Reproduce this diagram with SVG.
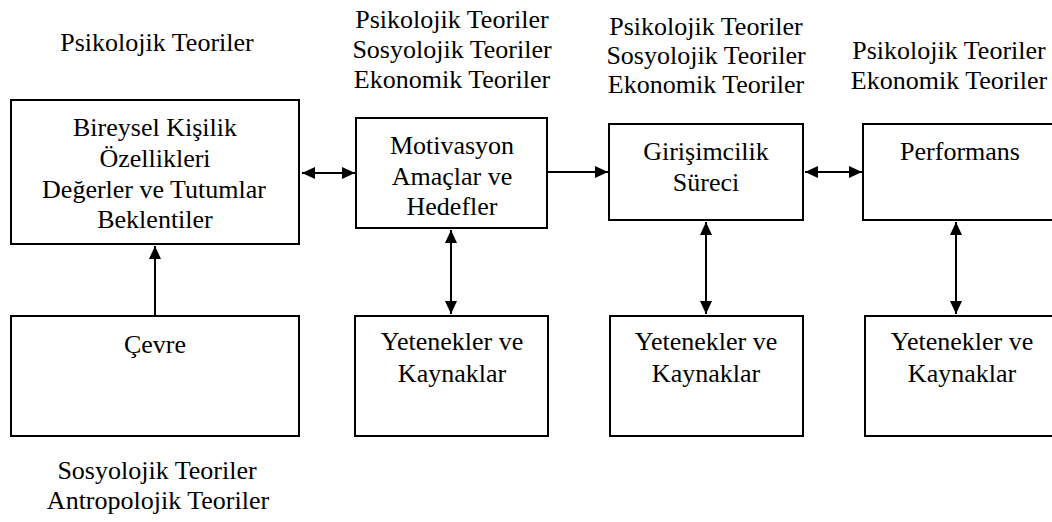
<svg xmlns="http://www.w3.org/2000/svg" width="1052" height="522" viewBox="0 0 1052 522">
<style>
.box{fill:#fff;stroke:#000;stroke-width:2}
text{font-family:"Liberation Serif","Times New Roman",serif;font-size:26px;fill:#000;text-anchor:middle}
.ln{stroke:#000;stroke-width:2;fill:none}
</style>
<defs>
<marker id="ah" viewBox="0 0 13 12" refX="13" refY="6" markerWidth="13" markerHeight="12" markerUnits="userSpaceOnUse" orient="auto-start-reverse">
<path d="M0,0 L13,6 L0,12 z" fill="#000"/>
</marker>
</defs>
<rect width="1052" height="522" fill="#fff"/>
<g id="labels">
<text x="157" y="51">Psikolojik Teoriler</text>
<text x="452" y="28">Psikolojik Teoriler</text>
<text x="452" y="58">Sosyolojik Teoriler</text>
<text x="452" y="88">Ekonomik Teoriler</text>
<text x="706" y="35">Psikolojik Teoriler</text>
<text x="706" y="64">Sosyolojik Teoriler</text>
<text x="706" y="93">Ekonomik Teoriler</text>
<text x="949" y="59">Psikolojik Teoriler</text>
<text x="949" y="89">Ekonomik Teoriler</text>
<text x="157" y="479">Sosyolojik Teoriler</text>
<text x="158" y="509">Antropolojik Teoriler</text>
</g>
<g id="bireysel">
<rect class="box" x="11" y="100" width="288" height="144"/>
<text x="155" y="136">Bireysel Kişilik</text>
<text x="155" y="167">Özellikleri</text>
<text x="154" y="198">Değerler ve Tutumlar</text>
<text x="155" y="228">Beklentiler</text>
</g>
<g id="motivasyon">
<rect class="box" x="356" y="118" width="191" height="110"/>
<text x="452" y="154">Motivasyon</text>
<text x="452" y="185">Amaçlar ve</text>
<text x="452" y="215">Hedefler</text>
</g>
<g id="girisimcilik">
<rect class="box" x="609" y="124" width="194" height="96"/>
<text x="706" y="160">Girişimcilik</text>
<text x="706" y="191">Süreci</text>
</g>
<g id="performans">
<rect class="box" x="863" y="124" width="194" height="96"/>
<text x="960" y="160">Performans</text>
</g>
<g id="cevre">
<rect class="box" x="11" y="316" width="288" height="120"/>
<text x="155" y="353">Çevre</text>
</g>
<g id="yetenekler1">
<rect class="box" x="355" y="316" width="193" height="120"/>
<text x="452" y="350">Yetenekler ve</text>
<text x="452" y="382">Kaynaklar</text>
</g>
<g id="yetenekler2">
<rect class="box" x="610" y="316" width="193" height="120"/>
<text x="706" y="350">Yetenekler ve</text>
<text x="706" y="382">Kaynaklar</text>
</g>
<g id="yetenekler3">
<rect class="box" x="865" y="316" width="194" height="120"/>
<text x="962" y="350">Yetenekler ve</text>
<text x="962" y="382">Kaynaklar</text>
</g>
<g id="connectors">
<line class="ln" x1="302" y1="173" x2="355" y2="173" marker-start="url(#ah)" marker-end="url(#ah)"/>
<line class="ln" x1="548" y1="172" x2="608" y2="172" marker-end="url(#ah)"/>
<line class="ln" x1="805" y1="172" x2="862" y2="172" marker-start="url(#ah)" marker-end="url(#ah)"/>
<line class="ln" x1="155" y1="315" x2="155" y2="246" marker-end="url(#ah)"/>
<line class="ln" x1="451" y1="230" x2="451" y2="314" marker-start="url(#ah)" marker-end="url(#ah)"/>
<line class="ln" x1="706" y1="222" x2="706" y2="314" marker-start="url(#ah)" marker-end="url(#ah)"/>
<line class="ln" x1="956" y1="222" x2="956" y2="314" marker-start="url(#ah)" marker-end="url(#ah)"/>
</g>
</svg>
